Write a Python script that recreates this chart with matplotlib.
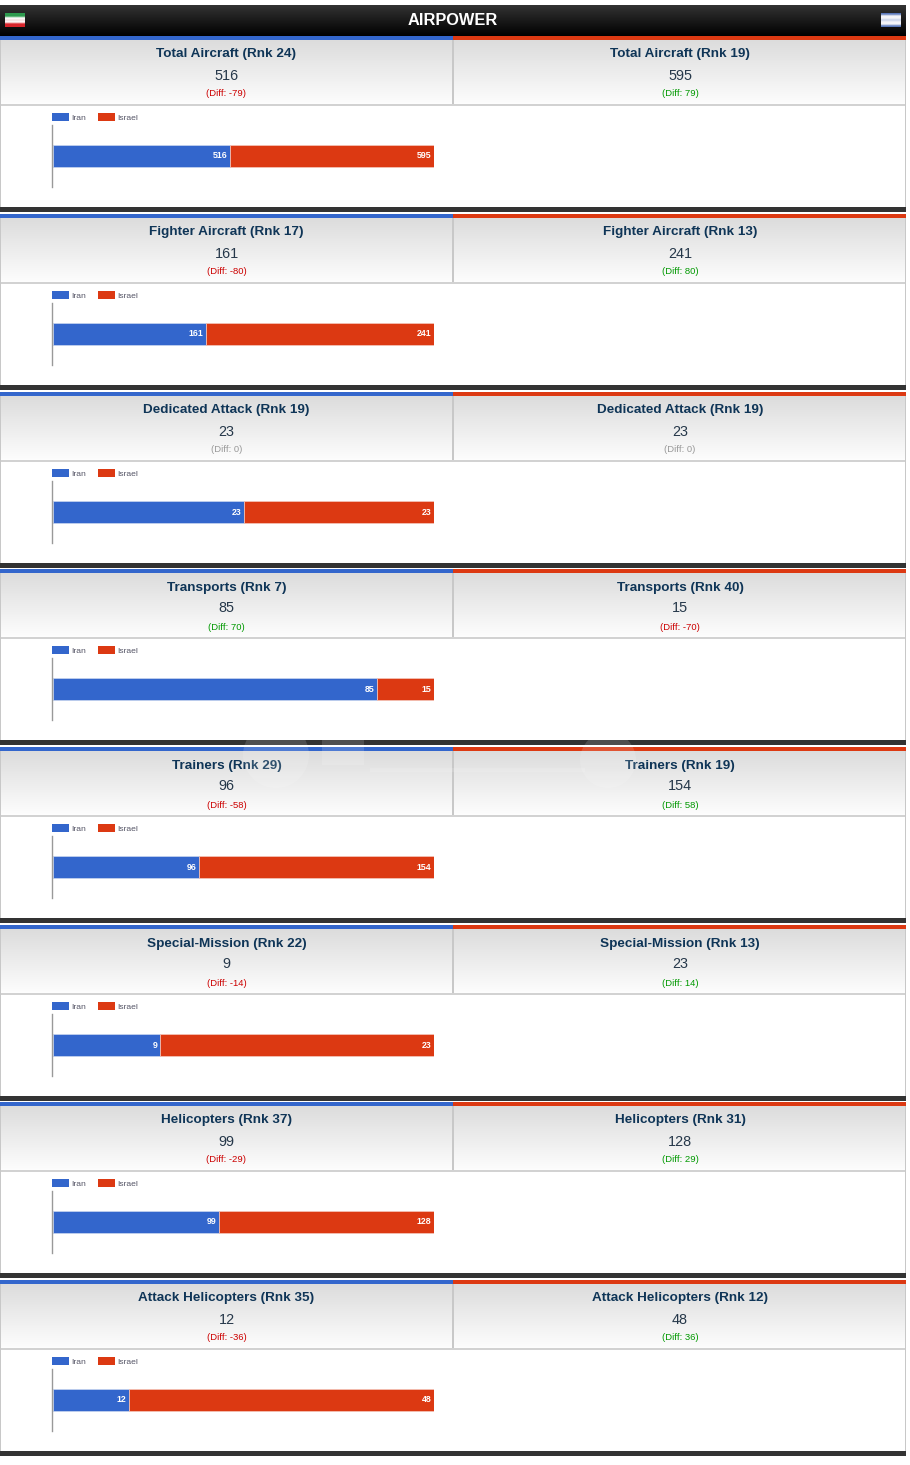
#airpower comparison page, iran vs israel, one stacked bar per category
import numpy as np
import matplotlib
matplotlib.use("Agg")
import matplotlib.pyplot as plt
from matplotlib.patches import Rectangle, Circle

plt.rcParams['font.family'] = ['Liberation Sans', 'DejaVu Sans']

#data
categories = ["Total Aircraft", "Fighter Aircraft", "Dedicated Attack", "Transports",
              "Trainers", "Special-Mission", "Helicopters", "Attack Helicopters"]
iran_rank = [24, 17, 19, 7, 29, 22, 37, 35]
israel_rank = [19, 13, 19, 40, 19, 13, 31, 12]
iran_vals = [516, 161, 23, 85, 96, 9, 99, 12]
israel_vals = [595, 241, 23, 15, 154, 23, 128, 48]
names = ["Iran", "Israel"]

W, H = 910, 1465
BLUE = "#3366cc"
RED = "#dc3912"
NAVY = "#0f3557"

fig = plt.figure(figsize=(W / 100, H / 100), dpi=100, facecolor="white")

#page axes works in pixels so the boxes line up with the screenshot
page = fig.add_axes([0, 0, 1, 1])
page.set_xlim(0, W)
page.set_ylim(H, 0)
page.axis("off")


def box(x0, y0, x1, y1, color, z=2):
    page.add_patch(Rectangle((x0, y0), x1 - x0, y1 - y0, facecolor=color, edgecolor="none", zorder=z))


def gradient(x0, y0, x1, y1, top, bottom):
    a = np.array(matplotlib.colors.to_rgb(top))
    b = np.array(matplotlib.colors.to_rgb(bottom))
    t = np.linspace(0, 1, 64)[:, None, None]
    img = a[None, None, :] * (1 - t) + b[None, None, :] * t
    page.imshow(img, extent=(x0, x1, y1, y0), aspect="auto", zorder=1)


def flag(x0, colors):
    img = np.array([matplotlib.colors.to_rgb(c) for c in colors])[:, None, :]
    page.imshow(img, extent=(x0, x0 + 20, 27, 13), aspect="auto", interpolation="bilinear", zorder=3)


#top title strip
gradient(0, 5, 906, 36, "#333333", "#000000")
flag(5, ["#2e9a4e", "#2e9a4e", "#ffffff", "#f4dede", "#ffffff", "#d8252c", "#d8252c"])
flag(881, ["#5a78ba", "#f4f4f8", "#f4f4f8", "#c8d2ea", "#f4f4f8", "#f4f4f8", "#5a78ba"])
page.text(453, 20.5, "AIRPOWER", color="white", fontsize=11.8, fontweight="bold",
          ha="center", va="center", zorder=4)


def diff_style(d):
    #positive green, negative red, zero grey
    if d > 0:
        return "#009900"
    if d < 0:
        return "#cc0000"
    return "#999999"


for i, cat in enumerate(categories):
    top = round(36 + i * 177.75)
    a = iran_vals[i]
    b = israel_vals[i]

    #panel background
    box(0, top, 453, top + 4, BLUE)
    box(453, top, 906, top + 4, RED)
    gradient(0, top + 4, 906, top + 68, "#dcdcdc", "#fdfdfd")
    box(0, top + 68, 906, top + 70, "#d2d2d2")
    box(452, top + 4, 454, top + 68, "#c8c8c8")
    box(0, top + 4, 1, top + 171, "#c8c8c8")
    box(905, top + 4, 906, top + 171, "#c8c8c8")
    box(0, top + 171, 906, top + 176, "#333333")

    #the two text columns
    for cx, val, rank, d in ((226.5, a, iran_rank[i], a - b), (680, b, israel_rank[i], b - a)):
        page.text(cx, top + 18.5, "%s (Rnk %d)" % (cat, rank), color=NAVY, fontsize=9.7,
                  fontweight="bold", ha="center", va="center", zorder=4)
        page.text(cx, top + 39.5, str(val), color="#26384a", fontsize=10.4,
                  ha="center", va="center", zorder=4)
        page.text(cx, top + 58, "(Diff: %d)" % d, color=diff_style(d), fontsize=6.8,
                  ha="center", va="center", zorder=4)

    #stacked bar axes, spans x 53-434 and the height of the grey axis line
    ax = fig.add_axes([53 / W, 1 - (top + 151) / H, 381 / W, 62 / H])
    ax.patch.set_alpha(0)
    ax.set_xlim(0, a + b)
    ax.set_ylim(-0.5, 0.5)
    h1 = ax.barh(0, a, height=22 / 62, color=BLUE, edgecolor="#c9d6f0", linewidth=0.5, label=names[0])
    h2 = ax.barh(0, b, left=a, height=22 / 62, color=RED, edgecolor="#f5c8bc", linewidth=0.5, label=names[1])
    for bars, val in ((h1, a), (h2, b)):
        labs = ax.bar_label(bars, labels=[str(val)], label_type="edge", padding=-1.8, color="white",
                            fontsize=6.3, fontweight="bold")
        for lab in labs:
            lab.set_ha("right")
            lab.set_va("center")
    ax.set_xticks([])
    ax.set_yticks([])
    for s in ("top", "right", "bottom"):
        ax.spines[s].set_visible(False)
    ax.spines["left"].set_color("#999999")
    ax.spines["left"].set_linewidth(1.0)
    ax.spines["left"].set_position(("outward", 0.5))

    leg = ax.legend(handles=[h1, h2], loc="lower left", bbox_to_anchor=(-1 / 381, 1.05), ncol=2,
                    frameon=False, fontsize=6.1, handlelength=2.0, handleheight=1.05,
                    handletextpad=0.28, columnspacing=1.4, borderpad=0, borderaxespad=0, labelcolor="#555566")
    for p in leg.get_patches():
        p.set_edgecolor("none")

#faint watermark lying over the trainers panel
wm = dict(facecolor="white", edgecolor="none", alpha=0.14, zorder=5)
page.add_patch(Circle((276, 755), 33, **wm))
page.add_patch(Circle((608, 760), 28, **wm))
page.add_patch(Rectangle((322, 735), 42, 30, **wm))
page.add_patch(Rectangle((370, 768), 215, 4, **wm))

fig.savefig("out.png", dpi=100, facecolor="white")
